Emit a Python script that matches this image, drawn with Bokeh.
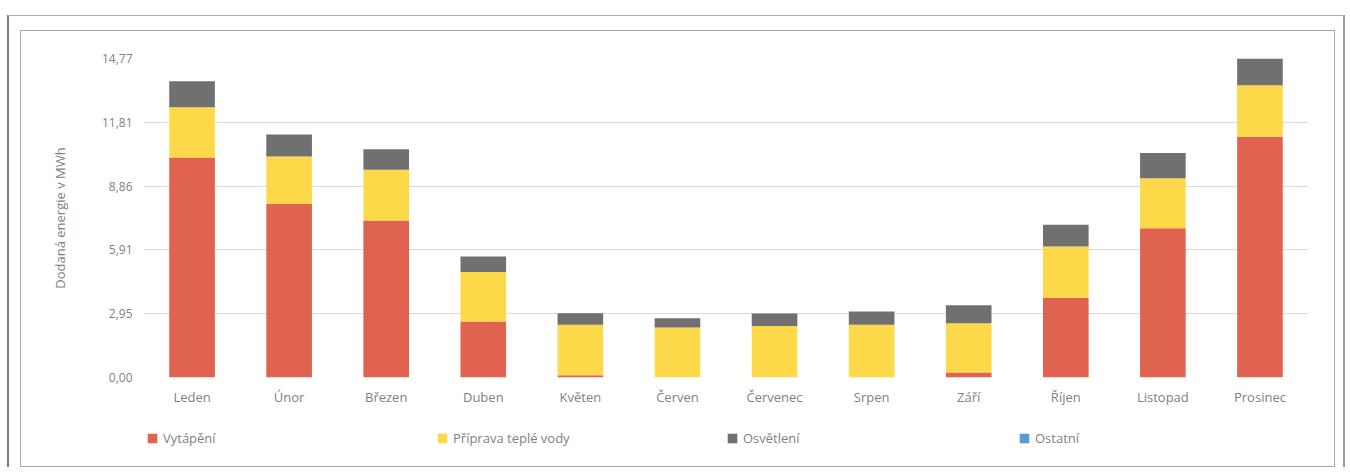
from bokeh.plotting import figure
from bokeh.models import FixedTicker, Legend, Range1d
from bokeh.layouts import column
from bokeh.embed import file_html
from bokeh.resources import INLINE

months = ["Leden", "Únor", "Březen", "Duben", "Květen", "Červen",
          "Červenec", "Srpen", "Září", "Říjen", "Listopad", "Prosinec"]
vytapeni = [10.19, 8.04, 7.27, 2.59, 0.10, 0.00, 0.00, 0.00, 0.23, 3.69, 6.91, 11.15]
voda = [2.32, 2.19, 2.35, 2.29, 2.34, 2.31, 2.39, 2.44, 2.28, 2.37, 2.32, 2.38]
osvetleni = [1.21, 1.02, 0.95, 0.72, 0.54, 0.43, 0.57, 0.62, 0.84, 1.01, 1.17, 1.24]
ostatni = [0.0] * 12

series = ["Vytápění", "Příprava teplé vody", "Osvětlení", "Ostatní"]
colors = ["#DF634F", "#FDD94A", "#707070", "#5B9BD5"]
y_max = 14.77
tick_values = [y_max * i / 5 for i in range(6)]
tick_labels = ["0,00", "2,95", "5,91", "8,86", "11,81", "14,77"]

FONT = "Open Sans"
TXT = "#7F7F7F"
W = 1313

data = dict(month=months)
data[series[0]] = vytapeni
data[series[1]] = voda
data[series[2]] = osvetleni
data[series[3]] = ostatni

p = figure(x_range=months, y_range=(0, y_max), width=W, height=390,
           output_backend="svg", toolbar_location=None,
           min_border_left=122, min_border_right=26, min_border_top=27,
           min_border_bottom=44)

renderers = p.vbar_stack(series, x="month", width=0.47, color=colors,
                         line_color=None, source=data)

p.yaxis.ticker = FixedTicker(ticks=tick_values)
p.yaxis.major_label_overrides = {t: l for t, l in zip(tick_values, tick_labels)}
p.yaxis.axis_label = "Dodaná energie v MWh"
p.yaxis.axis_label_text_font = FONT
p.yaxis.axis_label_text_font_style = "normal"
p.yaxis.axis_label_text_font_size = "13px"
p.yaxis.axis_label_text_color = TXT
p.yaxis.axis_label_standoff = 30
p.yaxis.major_label_standoff = 5

for ax in (p.xaxis[0], p.yaxis[0]):
    ax.axis_line_color = None
    ax.major_tick_line_color = None
    ax.minor_tick_line_color = None
    ax.major_label_text_font = FONT
    ax.major_label_text_color = TXT
p.yaxis.major_label_text_font_size = "12px"
p.xaxis.major_label_text_font_size = "13px"
p.xaxis.major_label_standoff = 4

p.xgrid.grid_line_color = None
p.ygrid.grid_line_color = "#D9D9D9"
p.ygrid.grid_line_width = 1
p.outline_line_color = None
p.background_fill_color = "white"
p.border_fill_color = "white"

# legend strip under the chart (its frame is aligned with the chart's frame)
lg = figure(width=W, height=45, output_backend="svg", toolbar_location=None,
            x_range=Range1d(0, 1), y_range=Range1d(0, 1),
            x_axis_type=None, y_axis_type=None,
            min_border_left=0, min_border_right=0, min_border_top=0,
            min_border_bottom=0)
lg.grid.visible = False
lg.outline_line_color = None
lg.background_fill_color = "white"
lg.border_fill_color = "white"
legend_x = [3, 293, 583, 875]
for s, c, lx in zip(series, colors, legend_x):
    r = lg.vbar(x=[0.5], top=[0.0], bottom=[0.0], width=0.0, color=c,
                line_color=None)
    leg = Legend(items=[(s, [r])], location=(lx, 19),
                 border_line_color=None, background_fill_alpha=0,
                 label_text_font=FONT, label_text_font_size="13px",
                 label_text_color=TXT, glyph_width=12, glyph_height=12,
                 label_standoff=5, padding=0, margin=0)
    lg.add_layout(leg, "center")

inner = column(p, lg, spacing=0, margin=(14, 8, 0, 11),
               styles={"border": "1px solid #A8A8A8"})
outer = column(inner, margin=(15, 0, 0, 7),
               styles={"border-left": "2px solid #7A7A7A",
                       "border-top": "1px solid #B0B0B0",
                       "border-right": "2px solid #9A9A9A"})

open("out.html", "w").write(file_html(outer, INLINE))
